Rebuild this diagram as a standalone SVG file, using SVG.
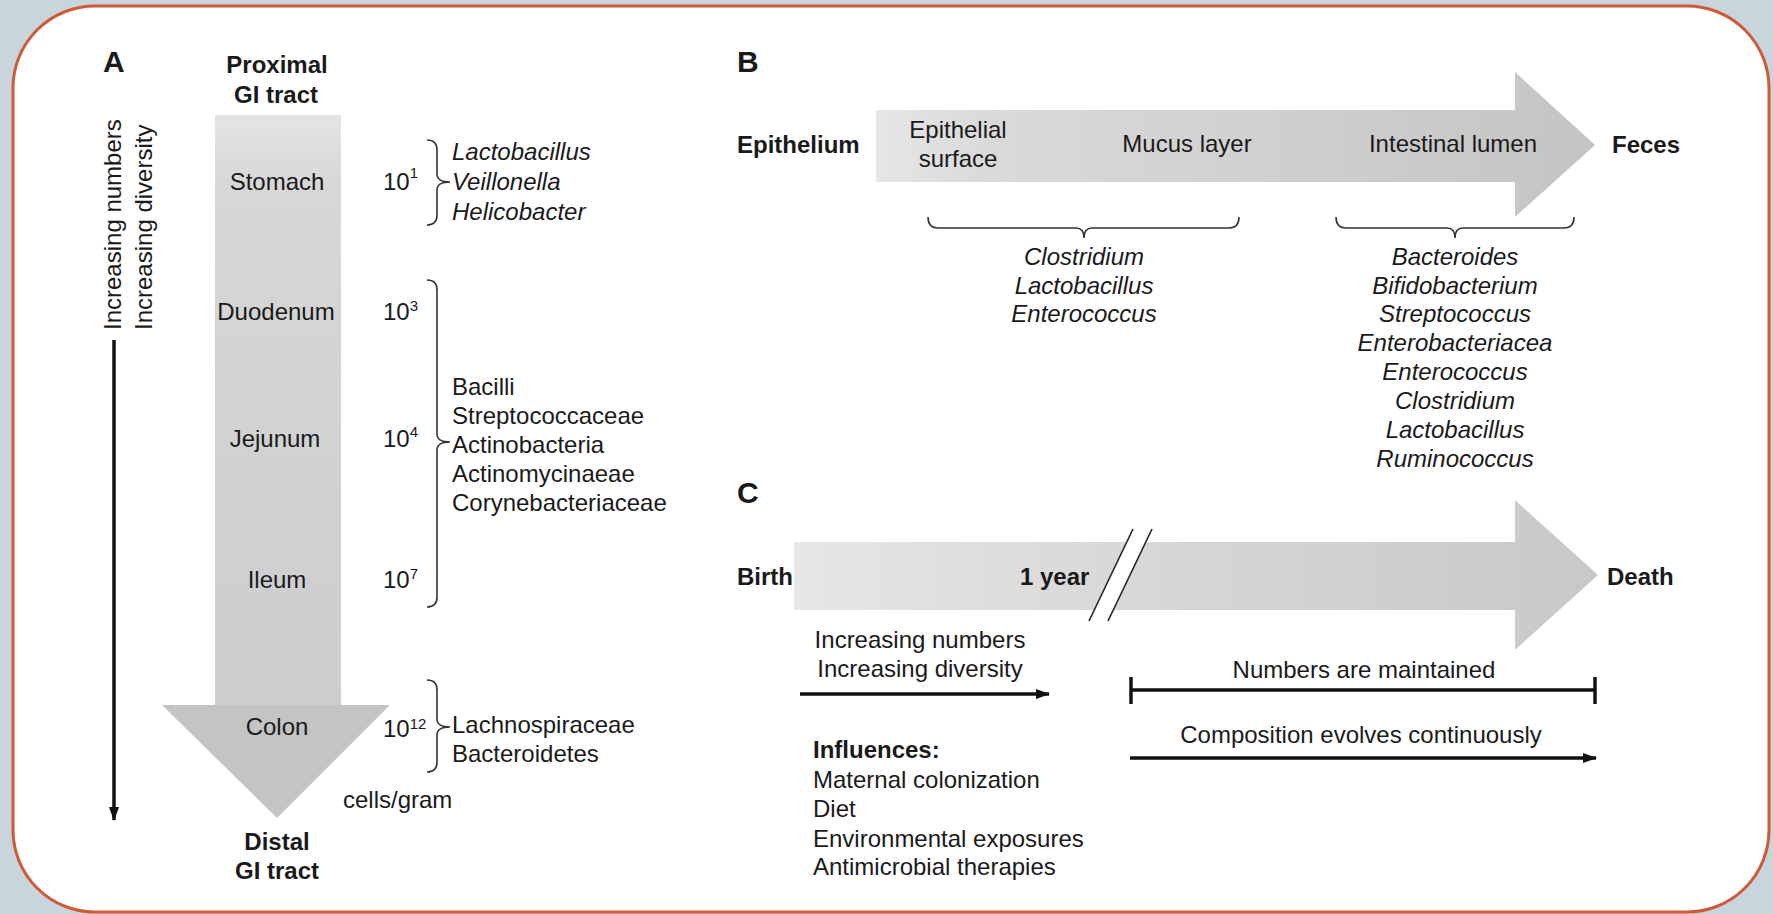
<svg xmlns="http://www.w3.org/2000/svg" width="1773" height="914" viewBox="0 0 1773 914">
<style>
text{font-family:"Liberation Sans",Arial,Helvetica,sans-serif;font-size:24px;fill:#1a1a1a}
.b{font-weight:bold}
.i{font-style:italic}
.m{text-anchor:middle}
.letter{font-weight:bold;font-size:30px}
.sup{font-size:15px}
.brace{fill:none;stroke:#333;stroke-width:1.6}
.conn{fill:none;stroke:#111;stroke-width:3.5}
</style>
<defs>
<linearGradient id="gA" x1="0" y1="0" x2="0" y2="1">
<stop offset="0" stop-color="#e4e4e4"/>
<stop offset="0.12" stop-color="#d7d7d8"/>
<stop offset="1" stop-color="#cdcdcf"/>
</linearGradient>
<linearGradient id="gB" x1="0" y1="0" x2="1" y2="0">
<stop offset="0" stop-color="#e6e6e6"/>
<stop offset="0.15" stop-color="#dadada"/>
<stop offset="1" stop-color="#c4c4c4"/>
</linearGradient>
<linearGradient id="gC" x1="0" y1="0" x2="1" y2="0">
<stop offset="0" stop-color="#e6e6e6"/>
<stop offset="0.4" stop-color="#d8d8d8"/>
<stop offset="1" stop-color="#c8c8c8"/>
</linearGradient>
<marker id="ah" viewBox="0 0 14 10" refX="13" refY="5" markerWidth="14" markerHeight="10" markerUnits="userSpaceOnUse" orient="auto">
<path d="M0,0 L14,5 L0,10 Z" fill="#111"/>
</marker>
</defs>

<rect x="0" y="0" width="1773" height="914" fill="#c9d5dc"/>
<rect x="13" y="6" width="1756" height="906" rx="82" ry="82" fill="#ffffff" stroke="#cf5a38" stroke-width="3"/>

<!-- Panel A -->
<g id="panelA-label"><text class="letter" x="103" y="72">A</text></g>
<g id="proximal"><text class="b m" x="277" y="73">Proximal</text><text class="b m" x="276" y="103">GI tract</text></g>
<g id="gi-arrow">
<rect x="215" y="115" width="126" height="592" fill="url(#gA)"/>
<polygon points="162,705 390,705 277,818" fill="#c4c4c4"/>
</g>
<g id="stomach"><text class="m" x="277" y="190">Stomach</text><text x="383" y="190">10<tspan class="sup" dy="-12">1</tspan></text></g>
<g id="duodenum"><text class="m" x="276" y="320">Duodenum</text><text x="383" y="320">10<tspan class="sup" dy="-9">3</tspan></text></g>
<g id="jejunum"><text class="m" x="275" y="447">Jejunum</text><text x="383" y="447">10<tspan class="sup" dy="-10">4</tspan></text></g>
<g id="ileum"><text class="m" x="277" y="588">Ileum</text><text x="383" y="588">10<tspan class="sup" dy="-9">7</tspan></text></g>
<g id="colon"><text class="m" x="277" y="735">Colon</text><text x="383" y="737">10<tspan class="sup" dy="-8">12</tspan></text></g>
<g id="cells-gram"><text x="343" y="808">cells/gram</text></g>
<g id="distal"><text class="b m" x="277" y="850">Distal</text><text class="b m" x="277" y="879">GI tract</text></g>
<g id="a-trend"><text transform="translate(121,330) rotate(-90)">Increasing numbers</text><text transform="translate(152,330) rotate(-90)">Increasing diversity</text></g>
<g id="stomach-taxa"><text class="i" x="452" y="160">Lactobacillus</text><text class="i" x="452" y="190">Veillonella</text><text class="i" x="452" y="220">Helicobacter</text></g>
<g id="smallint-taxa"><text x="452" y="395">Bacilli</text><text x="452" y="424">Streptococcaceae</text><text x="452" y="453">Actinobacteria</text><text x="452" y="482">Actinomycinaeae</text><text x="452" y="511">Corynebacteriaceae</text></g>
<g id="colon-taxa"><text x="452" y="733">Lachnospiraceae</text><text x="452" y="762">Bacteroidetes</text></g>

<!-- Panel B -->
<g id="panelB-label"><text class="letter" x="737" y="72">B</text></g>
<g id="mucosa-arrow"><polygon points="876,110 1515,110 1515,72 1595,145 1515,217 1515,182 876,182" fill="url(#gB)"/></g>
<g id="epithelium"><text class="b" x="737" y="153">Epithelium</text></g>
<g id="epithelial-surface"><text class="m" x="958" y="138">Epithelial</text><text class="m" x="958" y="167">surface</text></g>
<g id="mucus-layer"><text class="m" x="1187" y="152">Mucus layer</text></g>
<g id="intestinal-lumen"><text class="m" x="1453" y="152">Intestinal lumen</text></g>
<g id="feces"><text class="b" x="1612" y="153">Feces</text></g>
<g id="mucosal-taxa"><text class="i m" x="1084" y="265">Clostridium</text><text class="i m" x="1084" y="294">Lactobacillus</text><text class="i m" x="1084" y="322">Enterococcus</text></g>
<g id="lumen-taxa">
<text class="i m" x="1455" y="265">Bacteroides</text><text class="i m" x="1455" y="294">Bifidobacterium</text><text class="i m" x="1455" y="322">Streptococcus</text><text class="i m" x="1455" y="351">Enterobacteriacea</text><text class="i m" x="1455" y="380">Enterococcus</text><text class="i m" x="1455" y="409">Clostridium</text><text class="i m" x="1455" y="438">Lactobacillus</text><text class="i m" x="1455" y="467">Ruminococcus</text>
</g>

<!-- Panel C -->
<g id="panelC-label"><text class="letter" x="737" y="503">C</text></g>
<g id="life-arrow">
<polygon points="794,542 1515,542 1515,500 1598,575 1515,650 1515,610 794,610" fill="url(#gC)"/>
<polygon points="1133,529 1152,529 1108,621 1089,621" fill="#ffffff"/>
<line x1="1133" y1="529" x2="1089" y2="621" stroke="#222" stroke-width="1.6"/>
<line x1="1152" y1="529" x2="1108" y2="621" stroke="#222" stroke-width="1.6"/>
</g>
<g id="birth"><text class="b" x="737" y="585">Birth</text></g>
<g id="one-year"><text class="b" x="1020" y="585">1 year</text></g>
<g id="death"><text class="b" x="1607" y="585">Death</text></g>
<g id="c-trend"><text class="m" x="920" y="648">Increasing numbers</text><text class="m" x="920" y="677">Increasing diversity</text></g>
<g id="maintained"><text class="m" x="1364" y="678">Numbers are maintained</text></g>
<g id="composition"><text class="m" x="1361" y="743">Composition evolves continuously</text></g>
<g id="influences"><text class="b" x="813" y="758">Influences:</text><text x="813" y="788">Maternal colonization</text><text x="813" y="817">Diet</text><text x="813" y="847">Environmental exposures</text><text x="813" y="875">Antimicrobial therapies</text></g>

<!-- Braces -->
<g id="braces">
<path class="brace" d="M427,140 C434,140 437,143 437,150 L437,174 C437,179 440,182 450,182 C440,182 437,185 437,190 L437,215 C437,222 434,225 427,225"/>
<path class="brace" d="M427,280 C434,280 437,283 437,290 L437,434 C437,439 440,442 450,442 C440,442 437,445 437,450 L437,597 C437,604 434,607 427,607"/>
<path class="brace" d="M427,680 C434,680 437,683 437,690 L437,719 C437,724 440,727 450,727 C440,727 437,730 437,735 L437,762 C437,769 434,772 427,772"/>
<path class="brace" d="M928,217 C928,224 931,228 938,228 L1076,228 C1081,228 1084,231 1084,238 C1084,231 1087,228 1092,228 L1229,228 C1236,228 1239,224 1239,217"/>
<path class="brace" d="M1336,217 C1336,224 1339,228 1346,228 L1447,228 C1452,228 1455,231 1455,238 C1455,231 1458,228 1463,228 L1564,228 C1571,228 1574,224 1574,217"/>
</g>

<!-- Connectors -->
<g id="connectors">
<line class="conn" x1="114" y1="340" x2="114" y2="820" stroke-width="4" marker-end="url(#ah)"/>
<line class="conn" x1="800" y1="694" x2="1049" y2="694" marker-end="url(#ah)"/>
<line class="conn" x1="1131" y1="690" x2="1595" y2="690"/>
<line class="conn" x1="1131" y1="677" x2="1131" y2="704"/>
<line class="conn" x1="1595" y1="677" x2="1595" y2="704"/>
<line class="conn" x1="1130" y1="758" x2="1596" y2="758" marker-end="url(#ah)"/>
</g>
</svg>
